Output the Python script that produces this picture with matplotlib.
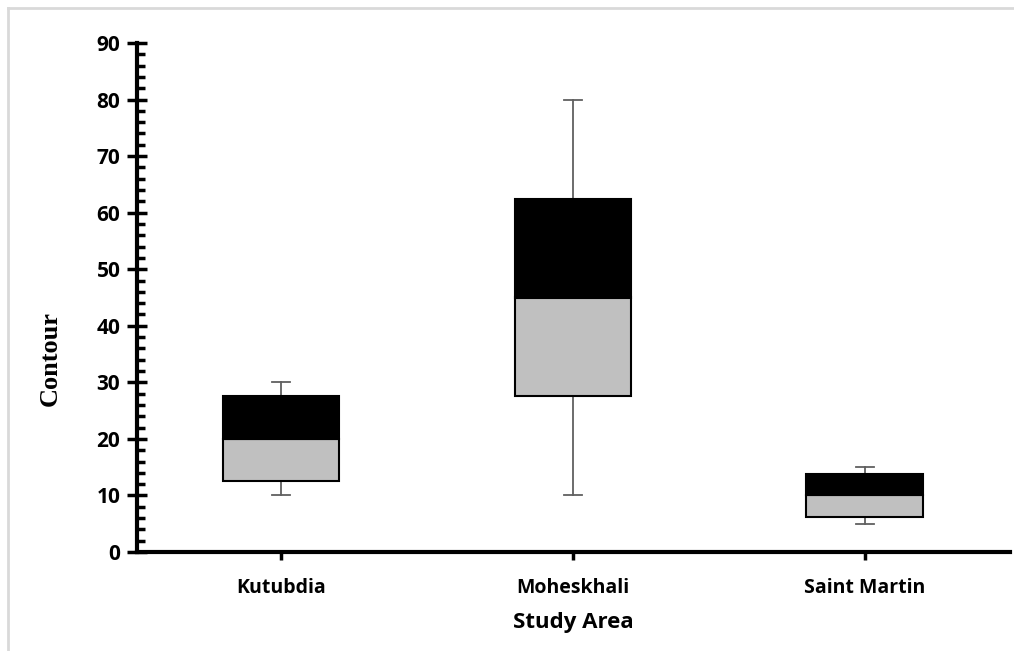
import matplotlib
matplotlib.use("Agg")
import matplotlib.pyplot as plt
from matplotlib.lines import Line2D
from matplotlib.ticker import MultipleLocator

# Study areas and five-number summaries of contour values
areas = ["Kutubdia", "Moheskhali", "Saint Martin"]
whisker_low = [10, 10, 5]
q1 = [12.5, 27.5, 6.25]
median = [20, 45, 10]
q3 = [27.5, 62.5, 13.75]
whisker_high = [30, 80, 15]

y_ticks = [0, 10, 20, 30, 40, 50, 60, 70, 80, 90]

W, H = 1014, 651
fig = plt.figure(figsize=(W / 100, H / 100), dpi=100)
ax = fig.add_axes([137 / W, 99 / H, 873 / W, 509 / H])

sans = "Open Sans"
box_w = 0.4
for i in range(len(areas)):
    # whiskers with caps
    ax.plot([i, i], [whisker_low[i], q1[i]], color="#606060", lw=1.3, zorder=1)
    ax.plot([i, i], [q3[i], whisker_high[i]], color="#606060", lw=1.3, zorder=1)
    for yv in (whisker_low[i], whisker_high[i]):
        ax.plot([i - 0.03, i + 0.03], [yv, yv], color="#606060", lw=1.3, zorder=1)
    # lower half grey, upper half black
    ax.bar(i, median[i] - q1[i], bottom=q1[i], width=box_w, color="#c0c0c0",
           edgecolor="black", linewidth=1.5, zorder=2)
    ax.bar(i, q3[i] - median[i], bottom=median[i], width=box_w, color="black",
           edgecolor="black", linewidth=1.5, zorder=2)

ax.set_xlim(-0.493, 2.497)
ax.set_ylim(0, 90)
ax.set_xticks(range(len(areas)))
ax.set_xticklabels(areas, fontsize=14, fontweight="bold", family=sans)
ax.set_yticks(y_ticks)
ax.set_yticklabels([str(v) for v in y_ticks], fontsize=15, fontweight="bold", family=sans)
ax.yaxis.set_minor_locator(MultipleLocator(2))

for s in ("top", "right"):
    ax.spines[s].set_visible(False)
for s in ("left", "bottom"):
    ax.spines[s].set_linewidth(3)
ax.spines["left"].set_bounds(0, 90)

ax.tick_params(axis="y", which="major", direction="inout", length=14, width=2.5, pad=5)
ax.tick_params(axis="y", which="minor", direction="in", length=6, width=2.5)
ax.tick_params(axis="x", which="major", direction="out", length=6, width=2.5, pad=13)

ax.set_xlabel("Study Area", fontsize=16, fontweight="bold", family=sans, labelpad=10)

# y-axis title, set a little below the axis middle
fig.text(50 / W, 1 - 358 / H, "Contour", rotation=90, ha="center", va="center",
         fontsize=19, fontweight="bold", family="Liberation Serif")

# light frame along the top and left edges of the figure
fig.add_artist(Line2D([8 / W, 1.0], [1 - 8 / H, 1 - 8 / H], transform=fig.transFigure,
                      color="#d9d9d9", lw=2))
fig.add_artist(Line2D([8 / W, 8 / W], [0, 1 - 8 / H], transform=fig.transFigure,
                      color="#d9d9d9", lw=2))

fig.savefig("out.png", dpi=100)
